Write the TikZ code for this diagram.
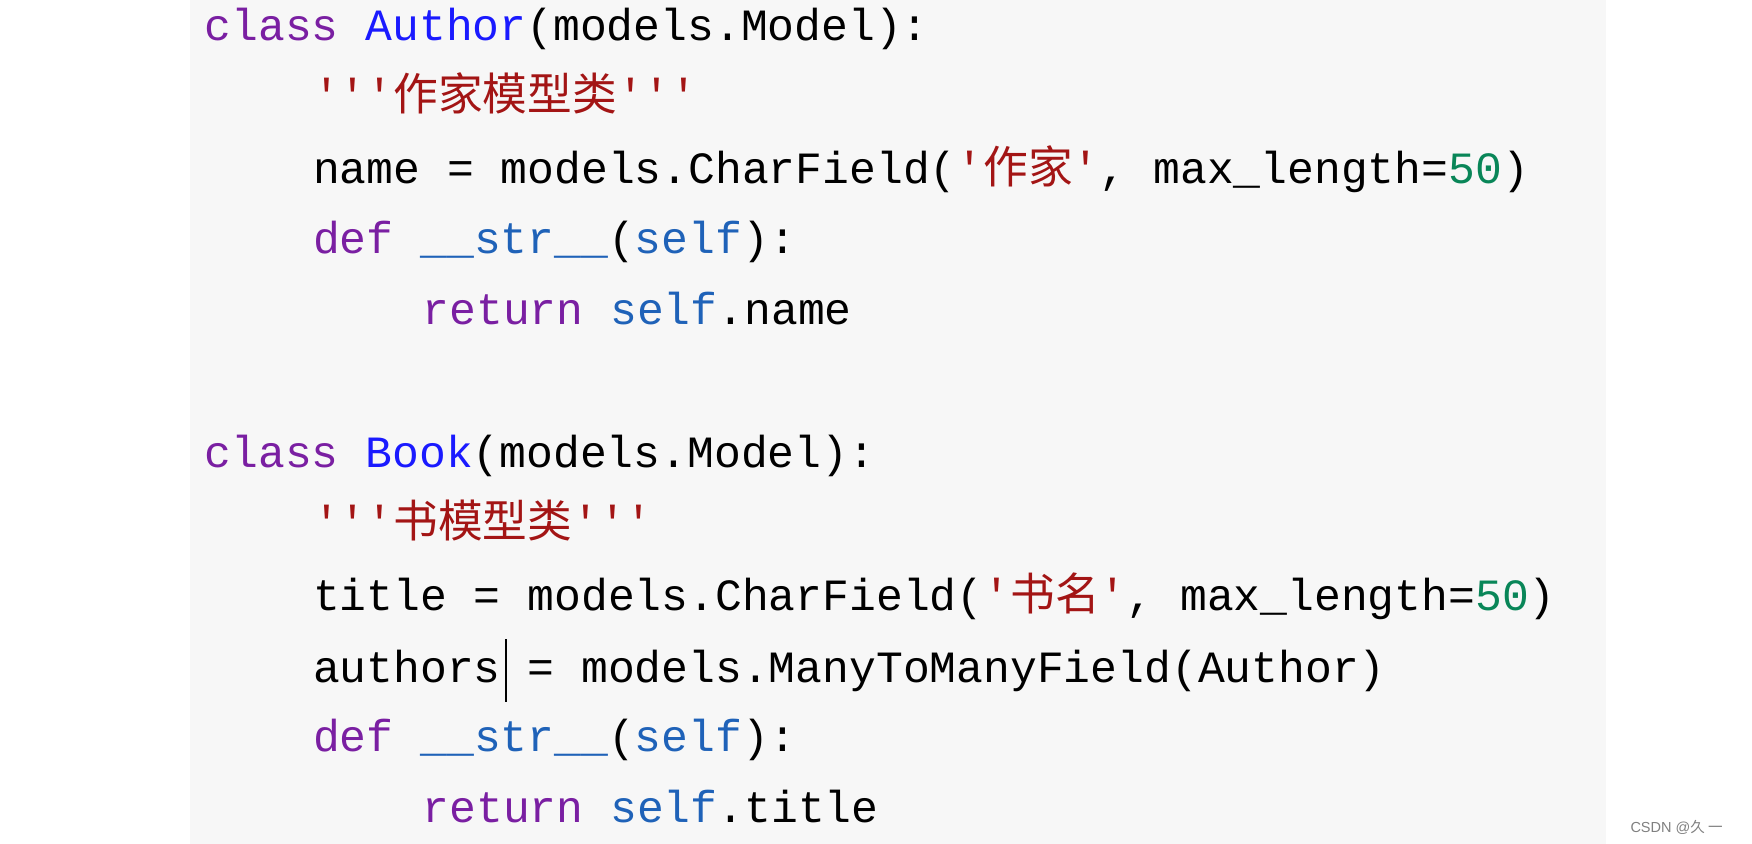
\documentclass[tikz,border=0pt]{standalone}
\usepackage{fontspec}
\setmonofont{Liberation Mono}
\newfontfamily\cjk{Noto Sans CJK SC}
\newfontfamily\wm{Liberation Sans}
\definecolor{kw}{HTML}{7A1FA2}
\definecolor{cls}{HTML}{1A1AFF}
\definecolor{st}{HTML}{A31515}
\definecolor{num}{HTML}{098658}
\definecolor{fn}{HTML}{1F62B8}
\definecolor{bg}{HTML}{F7F7F7}
\newcommand{\K}[1]{\textcolor{kw}{#1}}
\newcommand{\C}[1]{\textcolor{cls}{#1}}
\newcommand{\Sx}[1]{\textcolor{st}{#1}}
\newcommand{\N}[1]{\textcolor{num}{#1}}
\newcommand{\F}[1]{\textcolor{fn}{#1}}
\newcommand{\Z}[1]{{\cjk #1}}
\begin{document}
\begin{tikzpicture}[x=1pt,y=-1pt,
  code/.style={anchor=base west,inner sep=0pt,font=\ttfamily\fontsize{40}{40}\selectfont,text=black}]
\useasboundingbox (0,0) rectangle (1568,755);
\fill[bg] (170,0) rectangle (1437,755);
\node[code] (l1) at (183,36) {\K{class} \C{Author}(models.Model):};
\node[code] (l2) at (280,99) {\Sx{'''\Z{作家模型类}'''}};
\node[code] (l3) at (280,164) {name = models.CharField(\Sx{'\Z{作家}'}, max\_length=\N{50})};
\node[code] (l4) at (280,227) {\K{def} \F{\_\_str\_\_}(\F{self}):};
\node[code] (l5) at (378,290) {\K{return} \F{self}.name};
\node[code] (l7) at (183,418) {\K{class} \C{Book}(models.Model):};
\node[code] (l8) at (280,481) {\Sx{'''\Z{书模型类}'''}};
\node[code] (l9) at (280,546) {title = models.CharField(\Sx{'\Z{书名}'}, max\_length=\N{50})};
\node[code] (l10) at (280,611) {authors = models.ManyToManyField(Author)};
\node[code] (l11) at (280,673) {\K{def} \F{\_\_str\_\_}(\F{self}):};
\node[code] (l12) at (378,736) {\K{return} \F{self}.title};
\draw[line width=1.5pt] (453,572) -- (453,628);
\node[anchor=base east,inner sep=0pt,font=\wm\fontsize{13}{13}\selectfont,text=gray] (wm) at (1542,745) {CSDN @\Z{久 一}};
\end{tikzpicture}
\end{document}
